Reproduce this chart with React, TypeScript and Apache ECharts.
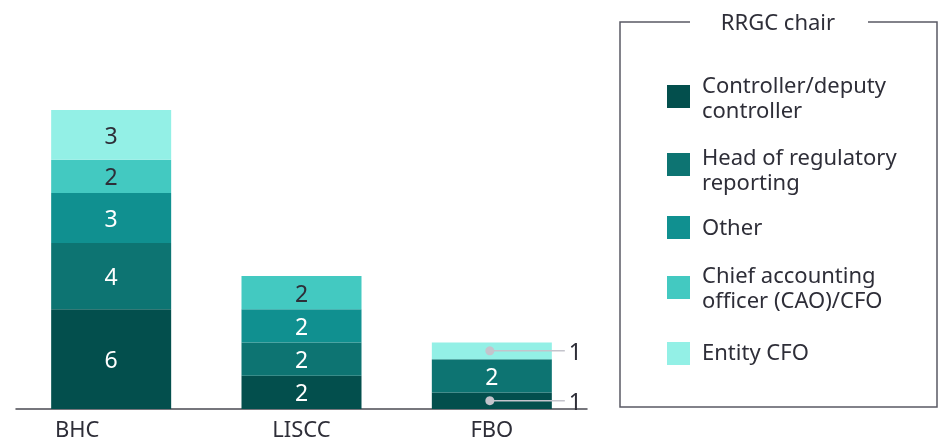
import React, { useEffect, useRef } from "react";
import * as echarts from "echarts";

const categories = ["BHC", "LISCC", "FBO"];
const seriesNames = [
  "Controller/deputy controller",
  "Head of regulatory reporting",
  "Other",
  "Chief accounting officer (CAO)/CFO",
  "Entity CFO",
];
const legendLines = [
  ["Controller/deputy", "controller"],
  ["Head of regulatory", "reporting"],
  ["Other"],
  ["Chief accounting", "officer (CAO)/CFO"],
  ["Entity CFO"],
];
const controller = [6, 2, 1];
const headOfRegReporting = [4, 2, 2];
const other = [3, 2, 0];
const chiefAccounting = [2, 2, 0];
const entityCfo = [3, 0, 1];
const legendTitle = "RRGC chair";

const seriesValues = [controller, headOfRegReporting, other, chiefAccounting, entityCfo];
const colors = ["#034f4d", "#0d7472", "#109090", "#43c9c1", "#93f0e6"];
const labelColors = ["#ffffff", "#ffffff", "#ffffff", "#2e2e38", "#2e2e38"];
const TEXT = "#2e2e38";
const FONT = '"Noto Sans", sans-serif';

export default function App() {
  const ref = useRef<HTMLDivElement>(null);
  useEffect(() => {
    if (!ref.current) return;
    const chart = echarts.init(ref.current, undefined, { renderer: "svg" });

    const barSeries = seriesNames.map((name, si) => ({
      name,
      type: "bar",
      stack: "total",
      barWidth: 120,
      itemStyle: { color: colors[si] },
      label: {
        show: true,
        position: "inside",
        color: labelColors[si],
        fontSize: 23,
        fontFamily: FONT,
        formatter: (p: any) => (p.value >= 2 ? String(p.value) : ""),
      },
      emphasis: { disabled: true },
      data: seriesValues[si].map((v) => (v === 0 ? "-" : v)),
    }));

    // callouts for thin segments (value 1)
    const callouts: number[][] = [];
    categories.forEach((_, ci) => {
      let base = 0;
      seriesValues.forEach((vals) => {
        const v = vals[ci];
        if (v === 1) callouts.push([ci, base + v / 2, v]);
        base += v;
      });
    });

    const legendCenters = [96.5, 164.5, 227.5, 287.5, 353.5];
    const textCenters = [96, 168, 225.5, 286, 351];
    const LINE = 25;
    const legendGraphics: any[] = [];
    seriesNames.forEach((_, i) => {
      legendGraphics.push({
        type: "rect",
        shape: { x: 667, y: legendCenters[i] - 11.5, width: 23, height: 23 },
        style: { fill: colors[i] },
      });
      const lines = legendLines[i];
      const first = textCenters[i] - ((lines.length - 1) * LINE) / 2;
      lines.forEach((ln, li) => {
        legendGraphics.push({
          type: "text",
          x: 702,
          y: first + li * LINE,
          style: {
            text: ln,
            fill: TEXT,
            fontSize: 22,
            fontFamily: FONT,
            lineHeight: 22,
            verticalAlign: "middle",
            align: "left",
          },
        });
      });
    });

    chart.setOption({
      animation: false,
      grid: { left: 16, right: 356, top: 110, bottom: 31 },
      xAxis: {
        type: "category",
        data: categories.map((c, i) =>
          i === 0 ? { value: c, textStyle: { padding: [0, 68, 0, 0] } } : c
        ),
        axisLine: { lineStyle: { color: "#4a4a52", width: 1.5 } },
        axisTick: { show: false },
        axisLabel: {
          color: TEXT,
          fontSize: 22,
          fontFamily: FONT,
          margin: 9,
          lineHeight: 20,
        },
      },
      yAxis: { type: "value", min: 0, max: 18, show: false, splitLine: { show: false } },
      series: [
        ...barSeries,
        {
          type: "custom",
          name: "callouts",
          coordinateSystem: "cartesian2d",
          z: 5,
          silent: true,
          encode: { x: 0, y: 1 },
          data: callouts,
          renderItem: (_p: any, api: any) => {
            const pt = api.coord([api.value(0), api.value(1)]);
            return {
              type: "group",
              children: [
                {
                  type: "line",
                  shape: { x1: pt[0], y1: pt[1], x2: pt[0] + 73, y2: pt[1] },
                  style: { stroke: "#c4c4cc", lineWidth: 1.5 },
                },
                {
                  type: "circle",
                  shape: { cx: pt[0] - 2, cy: pt[1], r: 4.5 },
                  style: { fill: "#c4c4cc" },
                },
                {
                  type: "text",
                  x: pt[0] + 77,
                  y: pt[1],
                  style: {
                    text: String(api.value(2)),
                    fill: TEXT,
                    fontSize: 23,
                    fontFamily: FONT,
                    verticalAlign: "middle",
                    align: "left",
                  },
                },
              ],
            };
          },
        },
      ],
      graphic: [
        {
          type: "polyline",
          shape: {
            points: [
              [690, 22],
              [620, 22],
              [620, 407],
              [937, 407],
              [937, 22],
              [868, 22],
            ],
          },
          style: { stroke: "#5a5a64", lineWidth: 1.5, fill: "none" },
        },
        {
          type: "text",
          x: 778,
          y: 21,
          style: {
            text: legendTitle,
            fill: TEXT,
            fontSize: 22,
            fontFamily: FONT,
            align: "center",
            verticalAlign: "middle",
          },
        },
        ...legendGraphics,
      ],
    });
    return () => chart.dispose();
  }, []);
  return (
    <div
      ref={ref}
      style={{ position: "fixed", left: 0, top: 0, width: 943, height: 440 }}
    />
  );
}
